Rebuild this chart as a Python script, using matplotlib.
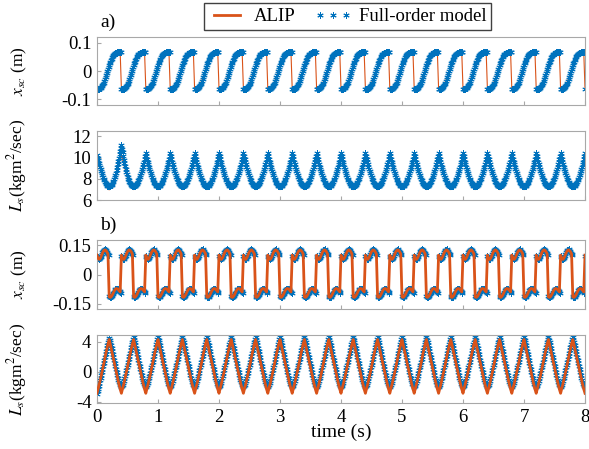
import numpy as np
import matplotlib.pyplot as plt
from matplotlib.lines import Line2D

plt.rcParams['font.family'] = ['Liberation Serif', 'DejaVu Serif']
plt.rcParams['mathtext.fontset'] = 'stix'
plt.rcParams['axes.unicode_minus'] = False

# one walking step = 0.4 s, 20 steps
period = 0.4
nstep = 20

# ---- a) x_sc (m), one step. ALIP: 20 samples/step, full model: 40 samples/step
xa_alip = [-0.062, -0.062, -0.060, -0.056, -0.050, -0.042, -0.032, -0.020, -0.007, 0.006,
           0.019, 0.031, 0.041, 0.050, 0.056, 0.060, 0.063, 0.064, 0.065, 0.065]
xa_full = [-0.064, -0.064, -0.064, -0.063, -0.062, -0.061, -0.059, -0.057, -0.054, -0.050,
           -0.046, -0.041, -0.035, -0.029, -0.022, -0.015, -0.008, -0.001, 0.006, 0.013,
           0.020, 0.027, 0.033, 0.039, 0.044, 0.049, 0.053, 0.056, 0.059, 0.061,
           0.063, 0.064, 0.065, 0.066, 0.066, 0.066, 0.066, 0.066, 0.066, 0.066]

# ---- a) L_s, steady step (peak at step start, trough mid-step)
La_alip = [10.30, 9.80, 9.32, 8.88, 8.46, 8.08, 7.74, 7.44, 7.20, 7.04,
           6.98, 7.04, 7.20, 7.44, 7.74, 8.08, 8.46, 8.88, 9.32, 9.80]
La_alip_start = [10.20, 9.74, 9.28, 8.85, 8.44, 8.06, 7.72, 7.42, 7.18, 7.02,
                 6.96, 7.04, 7.20, 7.44, 7.74, 8.08, 8.46, 8.88, 9.32, 9.80]
La_full = [10.40, 10.12, 9.85, 9.60, 9.35, 9.12, 8.90, 8.70, 8.50, 8.32,
           8.14, 7.98, 7.84, 7.71, 7.60, 7.50, 7.42, 7.36, 7.32, 7.30,
           7.30, 7.30, 7.32, 7.36, 7.42, 7.50, 7.60, 7.71, 7.84, 7.98,
           8.14, 8.32, 8.50, 8.70, 8.90, 9.12, 9.35, 9.60, 9.85, 10.12]
# first two steps of the full-order model (start-up overshoot)
La_full_start = [10.20, 9.97, 9.75, 9.52, 9.30, 9.09, 8.88, 8.69, 8.50, 8.32,
                 8.14, 7.98, 7.84, 7.71, 7.60, 7.50, 7.42, 7.36, 7.32, 7.30,
                 7.30, 7.32, 7.34, 7.39, 7.46, 7.55, 7.66, 7.80, 7.95, 8.14,
                 8.35, 8.58, 8.85, 9.12, 9.40, 9.70, 10.00, 10.30, 10.60, 10.90,
                 11.20, 10.85, 10.50, 10.15, 9.80, 9.50, 9.20, 8.92, 8.65, 8.42,
                 8.20, 8.02, 7.86, 7.72, 7.60, 7.50, 7.42, 7.36, 7.32, 7.30,
                 7.30, 7.30, 7.32, 7.36, 7.42, 7.50, 7.60, 7.71, 7.84, 7.98,
                 8.14, 8.32, 8.50, 8.70, 8.90, 9.12, 9.35, 9.60, 9.85, 10.12]

# ---- b) x_sc (m), positive half then negative half
xb_alip = [0.100, 0.082, 0.078, 0.088, 0.104, 0.118, 0.126, 0.126, 0.118, 0.106,
           -0.116, -0.118, -0.112, -0.100, -0.086, -0.076, -0.072, -0.075, -0.082, -0.090]
xb_full = [0.098, 0.090, 0.084, 0.081, 0.080, 0.083, 0.090, 0.098, 0.106, 0.114,
           0.120, 0.125, 0.128, 0.129, 0.127, 0.123, 0.118, 0.112, 0.107, 0.103,
           -0.112, -0.116, -0.117, -0.116, -0.113, -0.108, -0.102, -0.095, -0.088, -0.082,
           -0.077, -0.074, -0.073, -0.073, -0.076, -0.079, -0.083, -0.087, -0.090, -0.093]

# ---- b) L_s, trough at step start, peak mid-step
Lb_alip = [-2.90, -2.25, -1.58, -0.88, -0.14, 0.62, 1.42, 2.25, 3.00, 3.70,
           4.30, 3.55, 2.80, 2.05, 1.30, 0.55, -0.22, -1.00, -1.70, -2.35]
Lb_full = [-2.00, -1.92, -1.75, -1.50, -1.20, -0.88, -0.55, -0.18, 0.20, 0.58,
           0.95, 1.35, 1.75, 2.15, 2.55, 2.93, 3.30, 3.65, 4.00, 4.30,
           4.60, 4.25, 3.90, 3.50, 3.10, 2.70, 2.30, 1.90, 1.50, 1.10,
           0.70, 0.30, -0.10, -0.48, -0.85, -1.17, -1.45, -1.68, -1.85, -1.95]
Lb_full_start = [-3.00, -2.65, -2.30, -1.92, -1.55, -1.18, -0.80, -0.40, 0.00, 0.40,
                 0.80, 1.20, 1.60, 2.00, 2.40, 2.80, 3.20, 3.55, 3.90, 4.20,
                 4.50, 4.20, 3.90, 3.50, 3.10, 2.70, 2.30, 1.90, 1.50, 1.10,
                 0.70, 0.30, -0.10, -0.48, -0.85, -1.17, -1.45, -1.68, -1.85, -1.95]


def build(steady, start=[]):
    nsub = len(steady)
    nfirst = len(start) // nsub
    y = list(start) + list(steady) * (nstep - nfirst) + [steady[0]]
    tt = np.arange(nstep * nsub + 1) * period / nsub
    return tt, np.array(y)


blue = '#0072BD'
orange = '#D95319'
gray = '#a8a8a8'
star = (6, 2, 0)

fig = plt.figure(figsize=(5.89, 4.49), dpi=100)
W, H = 589.0, 449.0
boxes = [(37, 105), (131, 200), (240, 309), (335, 403)]
axs = []
for top, bot in boxes:
    axs.append(fig.add_axes([97 / W, 1 - bot / H, 488 / W, (bot - top) / H]))

Lname = r'$L_s$(kgm$^2$/sec)'
# (alip, full, orange width, orange on top?, ylim, yticks, yticklabels, ylabel)
series = [
    (build(xa_alip), build(xa_full), 0.8, False, (-0.12, 0.12), [-0.1, 0, 0.1], ['-0.1', '0', '0.1'],
     r'$x_{sc}$ (m)'),
    (build(La_alip, La_alip_start), build(La_full, La_full_start), 0.8, False, (6, 12.5), [6, 8, 10, 12],
     ['6', '8', '10', '12'], Lname),
    (build(xb_alip), build(xb_full), 2.0, True, (-0.178, 0.178), [-0.15, 0, 0.15], ['-0.15', '0', '0.15'],
     r'$x_{sc}$ (m)'),
    (build(Lb_alip), build(Lb_full, Lb_full_start), 2.0, True, (-4.2, 4.9), [-4, 0, 4], ['-4', '0', '4'],
     Lname),
]

for i, (ax, (alip, full, lw, ontop, ylim, yt, ytl, ylab)) in enumerate(zip(axs, series)):
    ax.plot(full[0], full[1], ls='none', marker=star, ms=4.5, mew=0.6, color=blue, mec=blue, zorder=2)
    ax.plot(alip[0], alip[1], color=orange, lw=lw, zorder=3 if ontop else 1)
    ax.set_xlim(0, 8)
    ax.set_ylim(*ylim)
    ax.set_xticks(range(9))
    ax.set_yticks(yt)
    ax.set_yticklabels(ytl)
    ax.tick_params(direction='in', length=3, color=gray, labelsize=13.5, pad=4)
    for s in ax.spines.values():
        s.set_color(gray)
        s.set_linewidth(0.8)
    ax.set_ylabel(ylab, fontsize=12.5)
    ax.yaxis.set_label_coords(-0.14, 0.5)
    if i < 3:
        ax.set_xticklabels([])

axs[3].set_xlabel('time (s)', fontsize=14, labelpad=-1)

fig.text(100 / W, 1 - 22 / H, 'a)', fontsize=14, va='center')
fig.text(100 / W, 1 - 225 / H, 'b)', fontsize=14, va='center')

handles = [Line2D([], [], color=orange, lw=2),
           Line2D([], [], ls='none', marker=star, ms=4.5, mew=0.7, color=blue)]
fig.legend(handles, ['ALIP', 'Full-order model'], loc='center', bbox_to_anchor=(347.5 / W, 1 - 16.5 / H),
           ncol=2, fancybox=False, edgecolor='#404040', framealpha=1, numpoints=3, fontsize=13.5,
           handlelength=2.0, handletextpad=0.4, columnspacing=1.0, borderpad=0.25, borderaxespad=0)

fig.savefig('out.png', dpi=100)
